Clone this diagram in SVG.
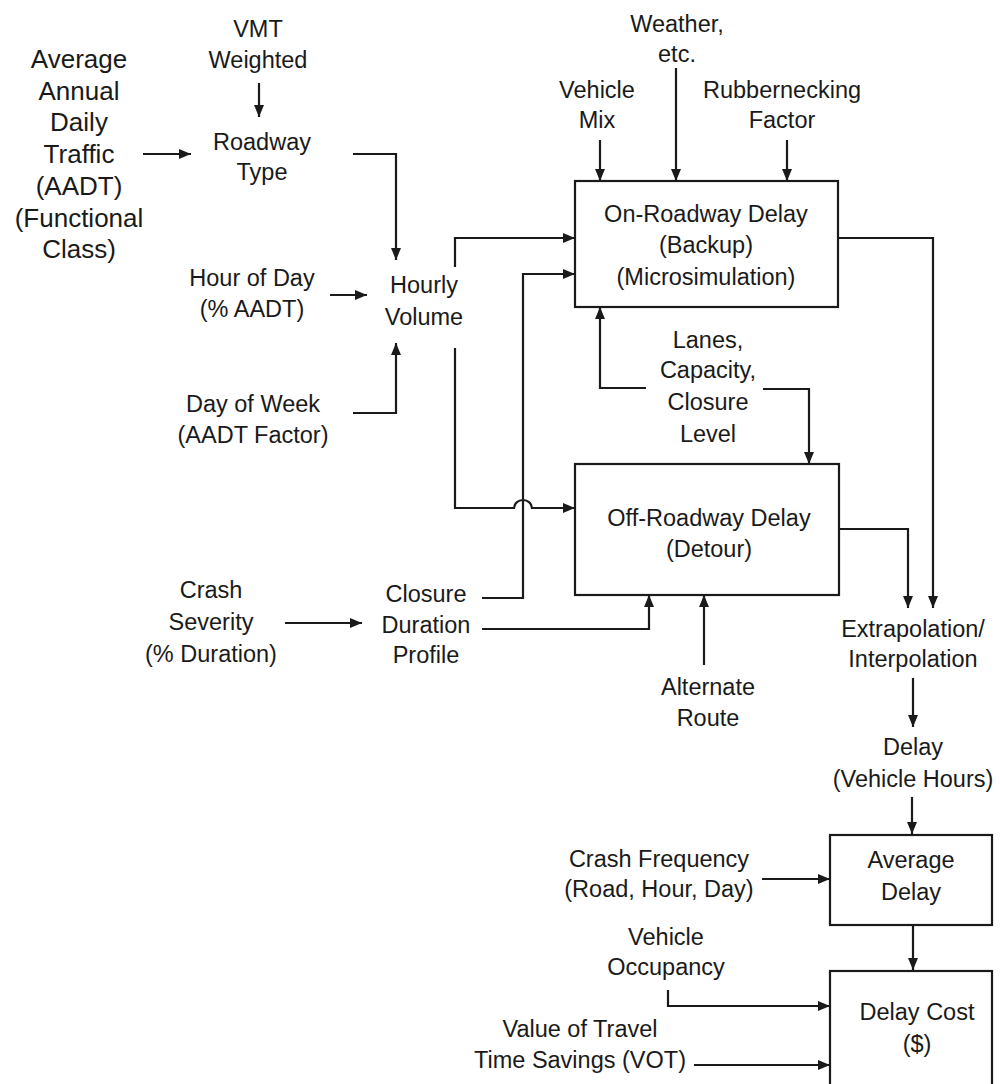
<svg xmlns="http://www.w3.org/2000/svg" width="1000" height="1084" viewBox="0 0 1000 1084">
<style>
text{font-family:"Liberation Sans",Arial,sans-serif;font-size:23.5px;fill:#1a1a1a;text-anchor:middle}
.big{font-size:26px}
.box{fill:none;stroke:#1a1a1a;stroke-width:2.2}
.c{fill:none;stroke:#1a1a1a;stroke-width:2.2;marker-end:url(#ah)}
.n{fill:none;stroke:#1a1a1a;stroke-width:2.2}
</style>
<defs>
<marker id="ah" viewBox="0 0 12 10" refX="12" refY="5" markerWidth="12" markerHeight="10" markerUnits="userSpaceOnUse" orient="auto">
<path d="M0,0 L12,5 L0,10 z" fill="#1a1a1a"/>
</marker>
</defs>
<rect width="1000" height="1084" fill="#ffffff"/>
<g id="connectors">
<path class="c" d="M259,83 V117"/>
<path class="c" d="M143,154 H191"/>
<path class="c" d="M353,154 H396 V260"/>
<path class="c" d="M330,295 H367"/>
<path class="c" d="M353,413 H396 V343"/>
<path class="c" d="M455,267 V238 H575"/>
<path class="c" d="M455,348 V508 H514 A9,8 0 0 1 532,508 H575"/>
<path class="c" d="M482,598 H523 V274 H575"/>
<path class="c" d="M482,629 H649 V595"/>
<path class="c" d="M704,665 V595"/>
<path class="c" d="M600,140 V181"/>
<path class="c" d="M676,68 V181"/>
<path class="c" d="M787,140 V181"/>
<path class="c" d="M646,388 H600 V307"/>
<path class="c" d="M763,389 H809 V464"/>
<path class="c" d="M838,238 H933 V608"/>
<path class="c" d="M839,529 H908 V608"/>
<path class="c" d="M913,678 V727"/>
<path class="c" d="M912,797 V834"/>
<path class="c" d="M913,925 V970"/>
<path class="c" d="M762,879 H830"/>
<path class="c" d="M668,990 V1006 H830"/>
<path class="c" d="M694,1065 H830"/>
<path class="c" d="M285,623 H362"/>
</g>
<g id="vmt"><text x="258" y="37">VMT</text><text x="258" y="68">Weighted</text></g>
<g id="aadt"><text class="big" x="79" y="68">Average</text><text class="big" x="79" y="100">Annual</text><text class="big" x="79" y="131">Daily</text><text class="big" x="79" y="163">Traffic</text><text class="big" x="79" y="195">(AADT)</text><text class="big" x="79" y="227">(Functional</text><text class="big" x="79" y="258">Class)</text></g>
<g id="roadway-type"><text x="262" y="150">Roadway</text><text x="262" y="180">Type</text></g>
<g id="hour-of-day"><text x="252" y="286">Hour of Day</text><text x="252" y="317">(% AADT)</text></g>
<g id="hourly-volume"><text x="424" y="293">Hourly</text><text x="424" y="325">Volume</text></g>
<g id="day-of-week"><text x="253" y="412">Day of Week</text><text x="253" y="443">(AADT Factor)</text></g>
<g id="weather"><text x="677" y="32">Weather,</text><text x="677" y="62">etc.</text></g>
<g id="vehicle-mix"><text x="597" y="98">Vehicle</text><text x="597" y="128">Mix</text></g>
<g id="rubbernecking"><text x="782" y="98">Rubbernecking</text><text x="782" y="128">Factor</text></g>
<g id="on-roadway"><rect class="box" x="575" y="181" width="263" height="126"/><text x="706" y="222">On-Roadway Delay</text><text x="706" y="253">(Backup)</text><text x="706" y="285">(Microsimulation)</text></g>
<g id="lanes"><text x="708" y="348">Lanes,</text><text x="708" y="378">Capacity,</text><text x="708" y="410">Closure</text><text x="708" y="442">Level</text></g>
<g id="off-roadway"><rect class="box" x="575" y="464" width="264" height="131"/><text x="709" y="526">Off-Roadway Delay</text><text x="709" y="557">(Detour)</text></g>
<g id="crash-severity"><text x="211" y="598">Crash</text><text x="211" y="630">Severity</text><text x="211" y="662">(% Duration)</text></g>
<g id="closure-duration"><text x="426" y="602">Closure</text><text x="426" y="633">Duration</text><text x="426" y="663">Profile</text></g>
<g id="alternate-route"><text x="708" y="695">Alternate</text><text x="708" y="726">Route</text></g>
<g id="extrapolation"><text x="913" y="637">Extrapolation/</text><text x="913" y="667">Interpolation</text></g>
<g id="delay"><text x="913" y="755">Delay</text><text x="913" y="787">(Vehicle Hours)</text></g>
<g id="crash-frequency"><text x="659" y="867">Crash Frequency</text><text x="659" y="897">(Road, Hour, Day)</text></g>
<g id="average-delay"><rect class="box" x="830" y="835" width="162" height="90"/><text x="911" y="868">Average</text><text x="911" y="900">Delay</text></g>
<g id="vehicle-occupancy"><text x="666" y="945">Vehicle</text><text x="666" y="975">Occupancy</text></g>
<g id="vot"><text x="580" y="1037">Value of Travel</text><text x="580" y="1068">Time Savings (VOT)</text></g>
<g id="delay-cost"><rect class="box" x="830" y="971" width="162" height="120"/><text x="917" y="1020">Delay Cost</text><text x="917" y="1052">($)</text></g>
</svg>
